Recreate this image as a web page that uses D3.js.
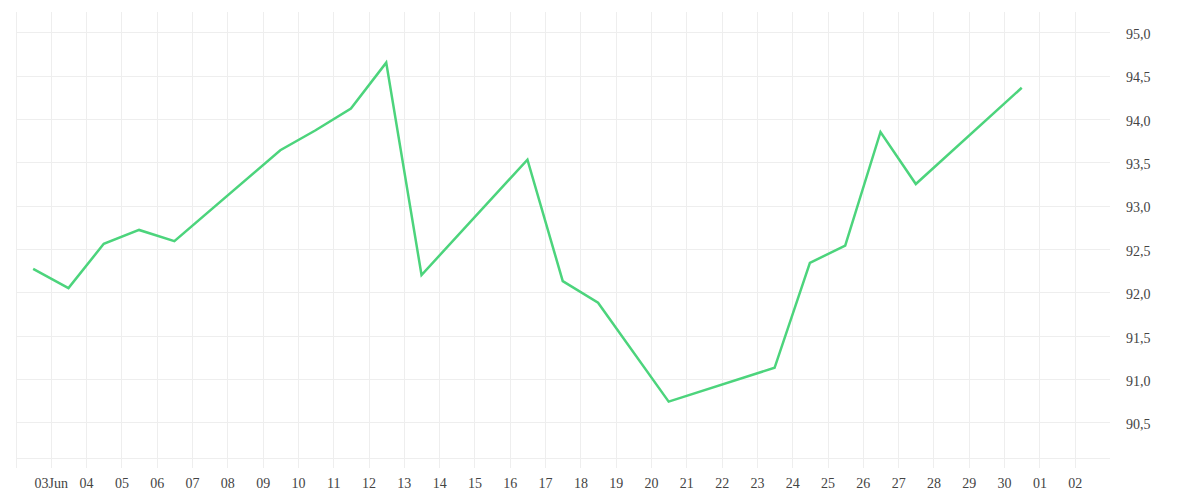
<!DOCTYPE html>
<html>
<head>
<meta charset="utf-8">
<script src="https://cdn.jsdelivr.net/npm/d3@7"></script>
<style>
  body { margin: 0; background: #fff; }
  .axis text { font-family: "Liberation Serif", serif; font-size: 14px; fill: #444; }
  .axis line { stroke: #eeeeee; shape-rendering: crispEdges; }
  .axis .domain { display: none; }
</style>
</head>
<body>
<script>
// daily closes, weekends and 19 Jun missing
var dates = ["2025-06-02","2025-06-03","2025-06-04","2025-06-05","2025-06-06",
             "2025-06-09","2025-06-10","2025-06-11","2025-06-12","2025-06-13",
             "2025-06-16","2025-06-17","2025-06-18","2025-06-20",
             "2025-06-23","2025-06-24","2025-06-25","2025-06-26","2025-06-27",
             "2025-06-30"];
var values = [92.27, 92.05, 92.56, 92.72, 92.59,
              93.64, 93.87, 94.12, 94.65, 92.20,
              93.53, 92.13, 91.88, 90.74,
              91.13, 92.34, 92.54, 93.85, 93.25,
              94.36];
var yTicks = [90.5, 91.0, 91.5, 92.0, 92.5, 93.0, 93.5, 94.0, 94.5, 95.0];
var xStart = "2025-06-02", xEnd = "2025-07-03";

var width = 1200, height = 500;
var plotLeft = 15.5, plotRight = 1110, plotTop = 12, plotBottom = 458.3, tickBottom = 468.3;

var parse = d3.utcParse("%Y-%m-%d");
var data = dates.map(function(d, i){
    return {date: d3.utcHour.offset(parse(d), 12), value: values[i]};
});

var x = d3.scaleUtc()
    .domain([parse(xStart), parse(xEnd)])
    .range([plotLeft, plotRight]);

// 95,0 sits at y=32.3 and 90,5 at y=422.4
var y = d3.scaleLinear()
    .domain([90.086, 95.234])
    .range([plotBottom, plotTop]);

var comma = d3.formatLocale({decimal: ",", thousands: ".", grouping: [3], currency: ["", ""]}).format(".1f");
var dayFmt = d3.utcFormat("%d");
var firstLabel = parse("2025-06-03");

var svg = d3.select("body").append("svg")
    .attr("width", width)
    .attr("height", height);

var xAxis = d3.axisBottom(x)
    .tickValues(d3.utcDay.range(parse(xStart), parse(xEnd)))
    .tickSizeInner(-(tickBottom - plotTop))
    .tickSizeOuter(0)
    .tickPadding(10)
    .tickFormat(function(d){
        if (+d < +firstLabel) return "";
        if (+d == +firstLabel) return dayFmt(d) + "Jun";
        return dayFmt(d);
    });

svg.append("g")
    .attr("class", "axis x-axis")
    .attr("transform", "translate(0," + tickBottom + ")")
    .call(xAxis);

var yAxis = d3.axisRight(y)
    .tickValues(yTicks)
    .tickSizeInner(-(plotRight - plotLeft))
    .tickSizeOuter(0)
    .tickPadding(16)
    .tickFormat(comma);

var yg = svg.append("g")
    .attr("class", "axis y-axis")
    .attr("transform", "translate(" + plotRight + ",0)")
    .call(yAxis);
yg.selectAll("text").attr("dy", "0.45em");

// bottom baseline
svg.append("line")
    .attr("x1", plotLeft).attr("x2", plotRight)
    .attr("y1", plotBottom).attr("y2", plotBottom)
    .attr("stroke", "#eeeeee")
    .attr("shape-rendering", "crispEdges");

var line = d3.line()
    .x(function(d){ return x(d.date); })
    .y(function(d){ return y(d.value); });

svg.append("path")
    .datum(data)
    .attr("fill", "none")
    .attr("stroke", "#4cd47c")
    .attr("stroke-width", 2.5)
    .attr("stroke-linejoin", "miter")
    .attr("d", line);
</script>
</body>
</html>
